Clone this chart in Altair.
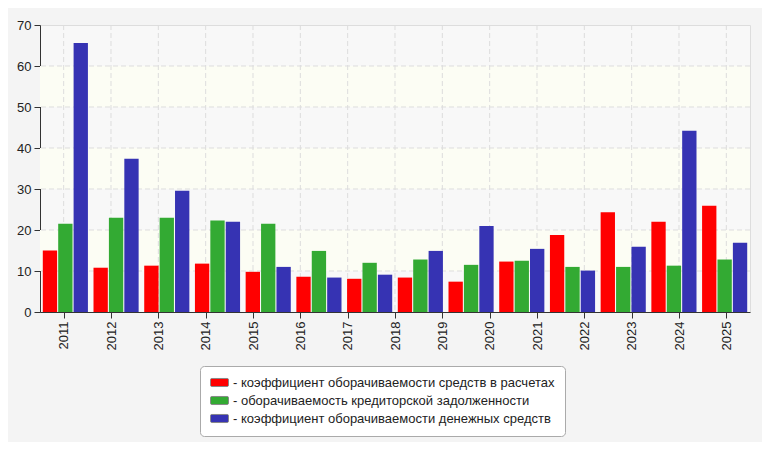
import altair as alt
import pandas as pd

periods = ["2011", "2012", "2013", "2014", "2015", "2016", "2017",
           "2018", "2019", "2020", "2021", "2022", "2023", "2024"]
series = [
    "коэффициент оборачиваемости средств в расчетах",
    "оборачиваемость кредиторской задолженности",
    "коэффициент оборачиваемости денежных средств",
]
colors = ["#ff0000", "#33aa33", "#3633b3"]

red = [15.0, 10.8, 11.3, 11.8, 9.8, 8.6, 8.1, 8.4, 7.4, 12.3, 18.8, 24.3, 22.0, 25.9]
green = [21.5, 23.0, 23.0, 22.3, 21.5, 14.9, 12.0, 12.8, 11.5, 12.5, 11.0, 11.0, 11.3, 12.8]
blue = [65.6, 37.4, 29.6, 22.0, 11.0, 8.4, 9.1, 14.9, 21.0, 15.4, 10.1, 15.9, 44.2, 16.9]

year_ticks = [2011, 2012, 2013, 2014, 2015, 2016, 2017, 2018,
              2019, 2020, 2021, 2022, 2023, 2024, 2025]
y_ticks = [0, 10, 20, 30, 40, 50, 60, 70]
y_grid = [10, 20, 30, 40, 50, 60]
band_lo = [10, 30, 50]
band_hi = [20, 40, 60]

rows = []
for name, vals in zip(series, [red, green, blue]):
    for p, v in zip(periods, vals):
        rows.append({"period": p, "series": name, "value": v})
df = pd.DataFrame(rows)

FONT = "Liberation Sans"

yscale = alt.Scale(domain=[0, 70], nice=False, zero=True)
yaxis = alt.Axis(values=y_ticks, title=None)

bands = alt.Chart(pd.DataFrame({"lo": band_lo, "hi": band_hi})).mark_rect(
    color="#fcfdf4"
).encode(
    x=alt.value(0), x2=alt.value("width"),
    y=alt.Y("lo:Q", scale=yscale, axis=yaxis), y2="hi:Q",
)

hgrid = alt.Chart(pd.DataFrame({"v": y_grid})).mark_rule(
    color="#dddddd", strokeDash=[5, 3]
).encode(y=alt.Y("v:Q", scale=yscale, axis=yaxis))

vgrid = alt.Chart(pd.DataFrame({"year": year_ticks})).mark_rule(
    color="#dddddd", strokeDash=[5, 3]
).encode(
    x=alt.X("year:Q",
            scale=alt.Scale(domain=[2010.5, 2025.5], nice=False, zero=False),
            axis=alt.Axis(values=year_ticks, format="d", labelAngle=-90,
                          orient="bottom", title=None, labelPadding=3))
)

# rounded rectangle, 3 units wide and 1.34 tall (scaled by sqrt(size)/2)
legend_symbol = ("M-1.3,-0.67 H1.3 A0.2,0.2 0 0 1 1.5,-0.47 V0.47 "
                 "A0.2,0.2 0 0 1 1.3,0.67 H-1.3 A0.2,0.2 0 0 1 -1.5,0.47 "
                 "V-0.47 A0.2,0.2 0 0 1 -1.3,-0.67 Z")

bars = alt.Chart(df).mark_bar().encode(
    x=alt.X("period:N", sort=periods, axis=None,
            scale=alt.Scale(paddingInner=0.11, paddingOuter=0.055)),
    xOffset=alt.XOffset("series:N", sort=series,
                        scale=alt.Scale(paddingInner=0.07, paddingOuter=0)),
    y=alt.Y("value:Q", scale=yscale, axis=yaxis),
    color=alt.Color("series:N", sort=series,
                    scale=alt.Scale(domain=series, range=colors),
                    legend=alt.Legend(
                        title=None, orient="none", legendX=160, legendY=341,
                        direction="vertical",
                        fillColor="white", strokeColor="#aaaaaa",
                        cornerRadius=4, padding=10,
                        labelFont=FONT, labelFontSize=13, labelColor="#222222",
                        labelExpr="'- ' + datum.label", labelLimit=500,
                        symbolType=legend_symbol, symbolSize=144,
                        symbolOffset=3,
                        symbolStrokeColor="#888888", symbolStrokeWidth=1,
                        symbolOpacity=1, rowPadding=4, labelOffset=7,
                    )),
)

chart = alt.layer(bands, hgrid, vgrid, bars).resolve_scale(
    x="independent"
).properties(
    width=710, height=287,
    padding={"left": 32, "top": 17, "right": 12, "bottom": 130},
    autosize=alt.AutoSizeParams(type="none"),
    background="#f4f4f4",
).configure_view(
    fill="#f8f8f8", stroke="#dddddd", strokeWidth=1
).configure_axis(
    grid=False, domainColor="#333333", tickColor="#333333",
    labelFont=FONT, labelFontSize=13, labelColor="#222222",
    tickSize=6, labelPadding=3,
)

chart.save("out.html", embed_options={"renderer": "svg", "actions": False})
